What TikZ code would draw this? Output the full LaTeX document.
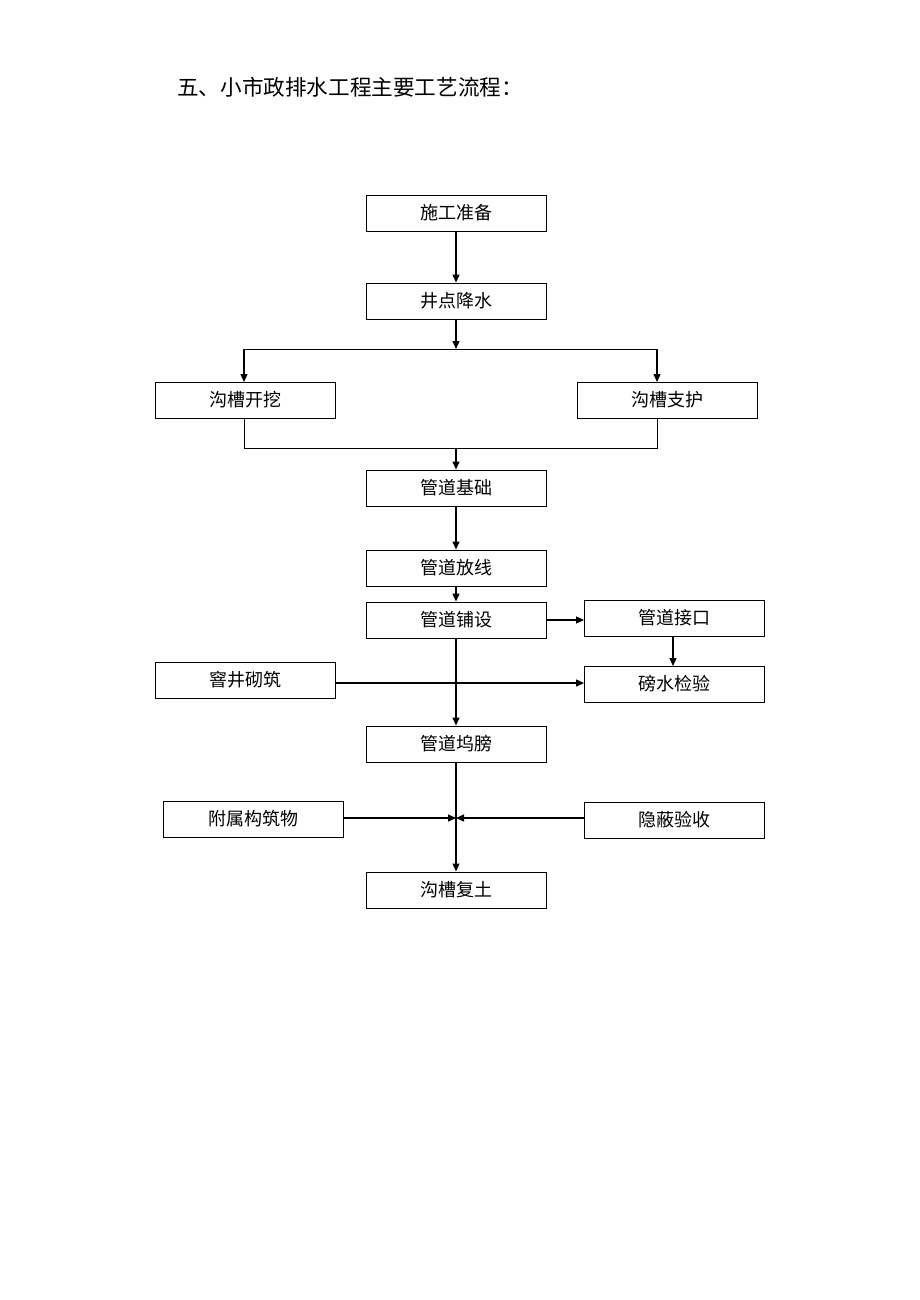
\documentclass[tikz,border=0pt]{standalone}
\usepackage{fontspec}
\newfontfamily\cjk{Noto Sans CJK SC}
\usetikzlibrary{arrows.meta}
\begin{document}
\begin{tikzpicture}[x=1pt,y=-1pt,
  box/.style={draw,line width=0.9pt,minimum width=180pt,minimum height=36pt,inner sep=0pt,font=\cjk\fontsize{18pt}{21pt}\selectfont},
  arr/.style={line width=1.2pt,-{Triangle[length=8pt,width=7pt]}},
  ln/.style={line width=0.9pt}]
\useasboundingbox (0,0) rectangle (920,1300);
\fill[white] (0,0) rectangle (920,1300);
\node[anchor=west,inner sep=0pt,font=\cjk\fontsize{21.6pt}{24pt}\selectfont] (title) at (177,87) {五、小市政排水工程主要工艺流程：};
\node[box] (a) at (456,213) {施工准备};
\node[box] (b) at (456,301) {井点降水};
\node[box] (c) at (245,400) {沟槽开挖};
\node[box] (d) at (667,400) {沟槽支护};
\node[box] (e) at (456,488) {管道基础};
\node[box] (f) at (456,568) {管道放线};
\node[box] (g) at (456,620) {管道铺设};
\node[box] (h) at (674.5,618) {管道接口};
\node[box] (i) at (245,680) {窨井砌筑};
\node[box] (j) at (674.5,684) {磅水检验};
\node[box] (k) at (456,744) {管道坞膀};
\node[box] (l) at (253,819) {附属构筑物};
\node[box] (m) at (674.5,820) {隐蔽验收};
\node[box] (n) at (456,890) {沟槽复土};
\coordinate (s) at (456,349);
\coordinate (jn) at (456,448);
\coordinate (mg) at (456,818);
\draw[arr] (a) -- (b);
\draw[arr] (b) -- (s);
\draw[ln] (244,349) -- (657,349);
\draw[arr] (244,349) -- (244,382);
\draw[arr] (657,349) -- (657,382);
\draw[ln] (244,418) -- (244,448) -- (657,448) -- (657,418);
\draw[arr] (jn) -- (e);
\draw[arr] (e) -- (f);
\draw[arr] (f) -- (g);
\draw[arr] (g.east) -- (h.west |- g.east);
\draw[arr] (673,636) -- (673,666);
\draw[arr] (i.east |- 0,683) -- (j.west |- 0,683);
\draw[arr] (g) -- (k);
\draw[arr] (l.east |- mg) -- (mg);
\draw[arr] (m.west |- mg) -- (mg);
\draw[arr] (k) -- (n);
\end{tikzpicture}
\end{document}
